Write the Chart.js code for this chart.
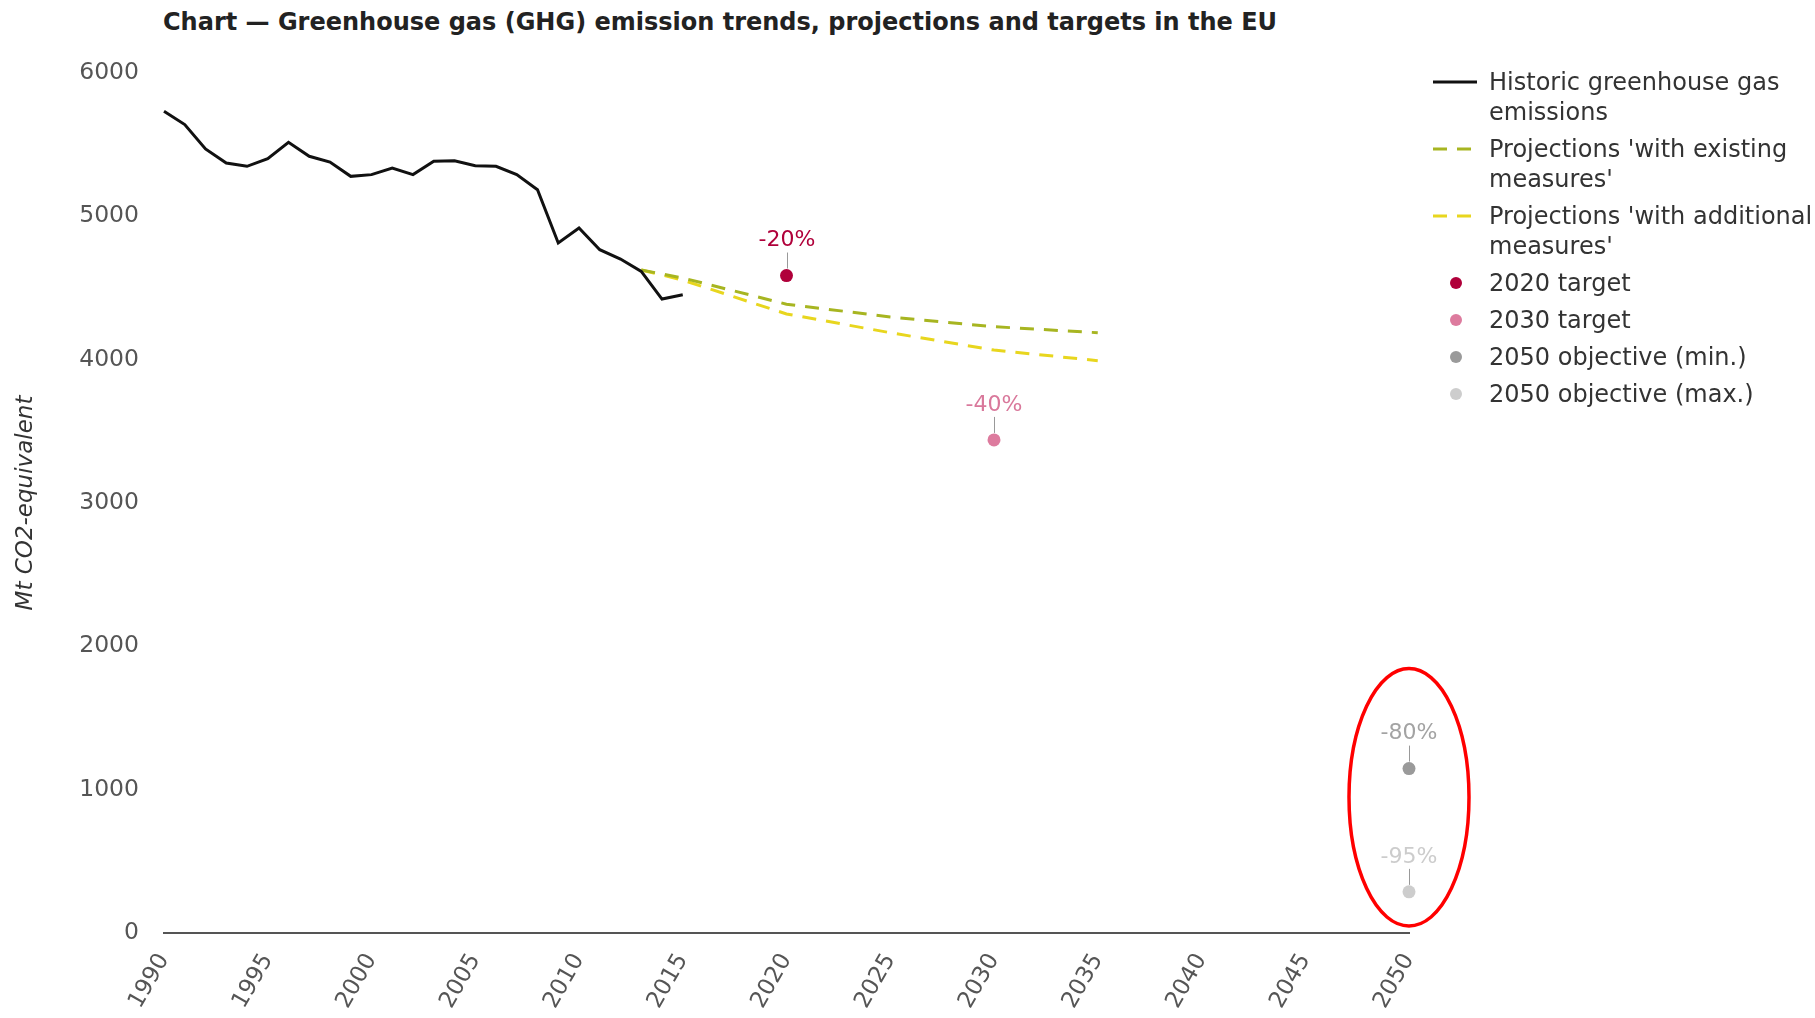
<!DOCTYPE html>
<html>
<head>
<meta charset="utf-8">
<title>GHG emission trends, projections and targets in the EU</title>
<script src="https://cdn.jsdelivr.net/npm/chart.js@4.4.1/dist/chart.umd.min.js"></script>
<style>
  html, body { margin: 0; padding: 0; background: #fff; }
  body { width: 1815px; height: 1018px; position: relative; overflow: hidden; font-family: "DejaVu Sans", sans-serif; }
  #title  { position: absolute; left: 163px; top: 8px; font-weight: bold; font-size: 24px; color: #222; white-space: nowrap; }
  #chart  { position: absolute; left: 0; top: 0; }
  #legend { position: absolute; left: 1433px; top: 67px; }
  .item   { display: flex; margin-bottom: 7px; }
  .swatch { width: 44px; height: 30px; flex: none; }
  .text   { margin-left: 12px; font-size: 24px; line-height: 30px; color: #333; white-space: nowrap; }
</style>
</head>
<body>
<div id="title">Chart — Greenhouse gas (GHG) emission trends, projections and targets in the EU</div>
<canvas id="chart" width="1815" height="1018"></canvas>
<div id="legend"></div>

<script>
/* ── data (Mt CO2-equivalent) ── */
const histYears  = [1990, 1991, 1992, 1993, 1994, 1995, 1996, 1997, 1998, 1999, 2000, 2001, 2002,
                    2003, 2004, 2005, 2006, 2007, 2008, 2009, 2010, 2011, 2012, 2013, 2014, 2015];
const histValues = [5733, 5640, 5470, 5372, 5349, 5402, 5516, 5419, 5379, 5279, 5291, 5337, 5291,
                    5384, 5388, 5353, 5349, 5291, 5186, 4814, 4919, 4767, 4702, 4616, 4423, 4453];

const projYears  = [2013, 2015, 2020, 2025, 2030, 2035];
const wemValues  = [4626, 4570, 4387, 4298, 4230, 4188];   // with existing measures
const wamValues  = [4626, 4555, 4319, 4188, 4067, 3993];   // with additional measures

const targetNames  = ['2020 target', '2030 target', '2050 objective (min.)', '2050 objective (max.)'];
const targetYears  = [2020, 2030, 2050, 2050];
const targetValues = [4587, 3440, 1147, 287];
const targetLabels = ['-20%', '-40%', '-80%', '-95%'];

const xTicks = [1990, 1995, 2000, 2005, 2010, 2015, 2020, 2025, 2030, 2035, 2040, 2045, 2050];
const yTicks = [0, 1000, 2000, 3000, 4000, 5000, 6000];

/* ── styles ── */
const FONT        = '"DejaVu Sans", sans-serif';
const targetDots  = ['#b0003a', '#dd7b9e', '#9a9a9a', '#cdcdcd'];
const targetTexts = ['#b0003a', '#d9789b', '#a3a3a3', '#cccccc'];
const WEM_COLOR   = '#a7b521';
const WAM_COLOR   = '#e8d61e';
const DASH        = [14, 10];

const legendLines = [
  ['Historic greenhouse gas', 'emissions'],
  ["Projections 'with existing", "measures'"],
  ["Projections 'with additional", "measures'"],
  ['2020 target'], ['2030 target'], ['2050 objective (min.)'], ['2050 objective (max.)']
];

const pts = (xs, ys) => xs.map((x, i) => ({ x: x, y: ys[i] }));

const datasets = [
  { label: 'Historic greenhouse gas emissions', data: pts(histYears, histValues),
    borderColor: '#111', borderWidth: 3, pointRadius: 0, tension: 0 },
  { label: "Projections 'with existing measures'", data: pts(projYears, wemValues),
    borderColor: WEM_COLOR, borderWidth: 3, borderDash: DASH, pointRadius: 0 },
  { label: "Projections 'with additional measures'", data: pts(projYears, wamValues),
    borderColor: WAM_COLOR, borderWidth: 3, borderDash: DASH, pointRadius: 0 }
];
targetNames.forEach((name, i) => {
  datasets.push({ label: name, data: [{ x: targetYears[i], y: targetValues[i] }], showLine: false,
    pointRadius: 6.5, pointHoverRadius: 6.5, pointBackgroundColor: targetDots[i], pointBorderWidth: 0,
    borderColor: targetDots[i] });
});

// "-20%" style labels above each target, plus red highlight round the 2050 objectives
const targetLabelPlugin = {
  id: 'targetLabels',
  afterDatasetsDraw(chart) {
    const ctx = chart.ctx, xs = chart.scales.x, ys = chart.scales.y;
    ctx.save();
    targetYears.forEach((yr, i) => {
      const px = Math.round(xs.getPixelForValue(yr)), py = ys.getPixelForValue(targetValues[i]);
      ctx.strokeStyle = '#999';
      ctx.lineWidth = 1;
      ctx.beginPath();
      ctx.moveTo(px + 0.5, py - 7);
      ctx.lineTo(px + 0.5, py - 23);
      ctx.stroke();
      ctx.fillStyle = targetTexts[i];
      ctx.font = '22px ' + FONT;
      ctx.textAlign = 'center';
      ctx.textBaseline = 'middle';
      ctx.fillText(targetLabels[i], px, py - 35);
    });
    const cx  = xs.getPixelForValue(2050);
    const top = ys.getPixelForValue(targetValues[2]) - 100;
    const bot = ys.getPixelForValue(0) - 7;
    ctx.strokeStyle = '#ff0000';
    ctx.lineWidth = 3.5;
    ctx.beginPath();
    ctx.ellipse(cx, (top + bot) / 2, 60, (bot - top) / 2, 0, 0, Math.PI * 2);
    ctx.stroke();
    ctx.restore();
  }
};

new Chart(document.getElementById('chart'), {
  type: 'line',
  data: { datasets: datasets },
  options: {
    responsive: false,
    animation: false,
    layout: { padding: { top: 73, right: 406, bottom: 5, left: 0 } },
    datasets: { line: { clip: false } },
    plugins: { legend: { display: false }, tooltip: { enabled: false } },
    scales: {
      x: {
        type: 'linear', min: 1990, max: 2050,
        afterBuildTicks: s => { s.ticks = xTicks.map(v => ({ value: v })); },
        afterFit: s => { s.height = 80; },
        grid: { display: false, drawTicks: false },
        border: { display: true, color: '#555', width: 2 },
        ticks: { autoSkip: false, minRotation: 60, maxRotation: 60, padding: 16,
                 color: '#555', font: { family: FONT, size: 23 }, callback: v => String(v) }
      },
      y: {
        min: 0, max: 6000,
        afterBuildTicks: s => { s.ticks = yTicks.map(v => ({ value: v })); },
        afterFit: s => { s.width = 164; },
        grid: { display: false, drawTicks: false },
        border: { display: false },
        title: { display: true, text: 'Mt CO2-equivalent', color: '#333', padding: { top: 12, bottom: 0 },
                 font: { family: FONT, size: 23, style: 'italic' } },
        ticks: { padding: 25, color: '#555', font: { family: FONT, size: 23.5 }, callback: v => String(v) }
      }
    }
  },
  plugins: [targetLabelPlugin]
});

/* ── HTML legend ── */
const legendEl = document.getElementById('legend');
datasets.forEach((ds, i) => {
  const item = document.createElement('div');
  item.className = 'item';
  let sw;
  if (i < 3) {
    const dash = ds.borderDash ? ' stroke-dasharray="14 10"' : '';
    sw = `<svg class="swatch" viewBox="0 0 44 30"><line x1="0" y1="15" x2="44" y2="15" stroke="${ds.borderColor}" stroke-width="3"${dash}/></svg>`;
  } else {
    sw = `<svg class="swatch" viewBox="0 0 44 30"><circle cx="23" cy="15" r="6" fill="${ds.pointBackgroundColor}"/></svg>`;
  }
  item.innerHTML = sw + '<div class="text">' + legendLines[i].join('<br>') + '</div>';
  legendEl.appendChild(item);
});
</script>
</body>
</html>
